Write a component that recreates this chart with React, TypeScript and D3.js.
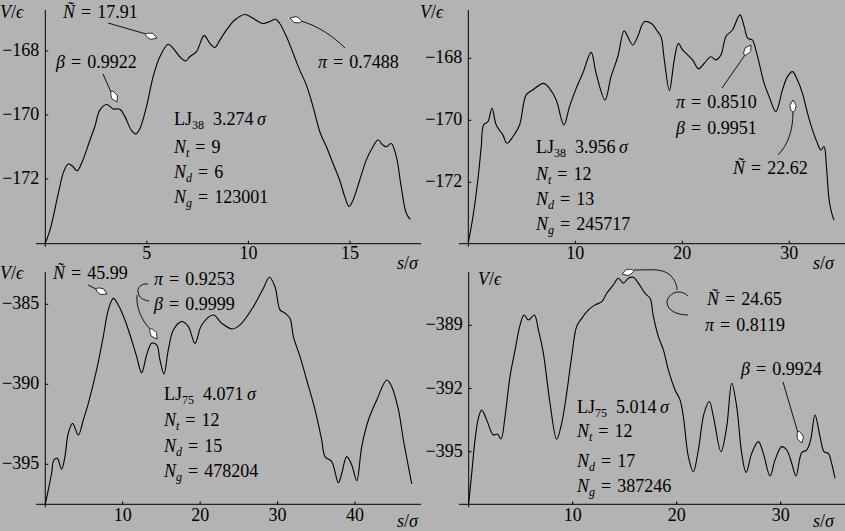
import React from "react";
import * as d3 from "d3";

// ---------- data (s/σ, V/ε) ----------
const lj38a: [number, number][] = [
  [0, -174], [0.23, -173.6], [0.64, -172.45], [0.89, -171.8], [1.13, -171.53], [1.34, -171.6],
  [1.57, -171.74], [1.79, -171.5], [2.2, -170.78], [2.44, -170.36], [2.69, -169.84], [3.02, -169.67],
  [3.34, -169.81], [3.67, -169.82], [3.92, -170.05], [4.25, -170.49], [4.46, -170.59], [4.66, -170.42],
  [4.98, -169.74], [5.31, -168.8], [5.64, -168.18], [6.05, -167.79], [6.3, -167.92], [6.62, -168.18],
  [6.9, -168.31], [7.11, -168.18], [7.44, -168.02], [7.82, -167.52], [8.1, -167.76], [8.34, -167.89],
  [8.59, -167.66], [8.92, -167.34], [9.33, -167.03], [9.82, -166.86], [10.23, -166.98], [10.72, -167.14],
  [11.05, -167.08], [11.34, -167.01], [11.54, -167.14], [11.87, -167.55], [12.2, -168.07], [12.52, -168.59],
  [12.85, -169.06], [13.18, -169.74], [13.54, -170.57], [13.84, -170.99], [14.16, -171.51], [14.49, -172.03],
  [14.74, -172.55], [14.95, -172.86], [15.15, -172.66], [15.48, -172.03], [15.8, -171.41], [16.13, -170.99],
  [16.38, -170.78], [16.62, -170.94], [16.79, -170.99], [17.03, -170.89], [17.28, -171.3], [17.52, -172.24],
  [17.77, -173.07], [17.97, -173.26],
];

const lj38b: [number, number][] = [
  [0, -173.95], [0.44, -173.1], [0.9, -171.9], [1.21, -170.85], [1.43, -170.15], [1.84, -170.04],
  [2.21, -169.61], [2.61, -170.15], [3.23, -170.47], [3.61, -170.74], [4.17, -170.53], [4.79, -170.15],
  [5.41, -169.18], [6.03, -169.02], [7.03, -168.81], [7.59, -168.97], [8.21, -169.34], [8.93, -170.15],
  [9.46, -169.56], [10.08, -168.97], [10.7, -168.48], [11.48, -167.81], [11.94, -168.48], [12.78, -169.34],
  [13.34, -168.59], [13.97, -167.95], [14.56, -167.11], [14.9, -167.3], [15.37, -167.57], [15.83, -167.3],
  [16.45, -166.82], [17.08, -166.87], [17.7, -167.14], [18.01, -167.3], [18.32, -168.05], [18.79, -169.04],
  [19.25, -168.05], [19.63, -167.52], [20.03, -167.73], [20.5, -167.89], [20.96, -168.05], [21.52, -168.34],
  [22.05, -168.16], [22.67, -167.95], [23.14, -168.05], [23.61, -167.89], [24.08, -167.3], [24.7, -167.08],
  [25.38, -166.6], [25.79, -166.98], [26.1, -167.35], [26.56, -167.41], [26.87, -167.73], [27.19, -168.16],
  [27.65, -168.81], [28.12, -169.24], [28.74, -169.72], [29.36, -169.02], [29.83, -168.59], [30.3, -168.43],
  [30.76, -168.7], [31.23, -169.13], [31.7, -169.77], [32.16, -170.31], [32.63, -170.74], [32.94, -170.96],
  [33.25, -170.85], [33.47, -171.49], [33.72, -172.57], [33.97, -173.0], [34.18, -173.22],
];

const lj75a: [number, number][] = [
  [0, -397.5], [0.39, -396.6], [0.82, -395.56], [1.12, -394.73], [1.55, -394.63], [2.11, -395.31],
  [2.54, -394.52], [2.97, -393.06], [3.53, -392.44], [4.26, -393.17], [4.91, -392.23], [5.56, -391.19],
  [6.63, -389.1], [7.49, -387.02], [8.14, -385.35], [8.79, -384.63], [9.43, -385.04], [10.29, -385.98],
  [11.15, -387.23], [11.8, -388.27], [12.45, -389.27], [13.09, -388.17], [13.74, -387.44], [14.39, -387.54],
  [14.81, -388.48], [15.33, -389.35], [15.89, -387.85], [16.54, -386.6], [17.61, -386.08], [18.48, -386.4],
  [19.34, -387.44], [20.2, -386.29], [21.71, -385.67], [22.79, -386.19], [24.16, -386.54], [25.15, -386.29],
  [26.87, -385.15], [28.17, -384.0], [28.94, -383.31], [29.67, -383.9], [30.32, -385.35], [30.97, -385.56],
  [31.61, -385.88], [32.04, -387.02], [32.9, -388.27], [33.76, -389.73], [34.84, -391.6], [35.7, -393.48],
  [36.13, -394.52], [36.99, -394.83], [37.85, -396.15], [38.29, -395.56], [38.93, -394.52], [39.58, -395.04],
  [40.22, -396.02], [40.87, -393.9], [41.73, -392.23], [42.81, -390.98], [44.1, -389.73], [44.75, -390.15],
  [45.61, -391.6], [46.25, -393.48], [46.9, -395.15], [47.33, -396.23],
];

const lj75b: [number, number][] = [
  [0, -397.45], [0.29, -396.03], [0.61, -394.44], [0.93, -393.41], [1.25, -393.02], [1.73, -393.49],
  [2.37, -394.21], [2.76, -394.16], [3.11, -394.4], [3.49, -393.34], [3.97, -391.44], [4.46, -390.17],
  [4.94, -388.98], [5.32, -388.51], [5.74, -388.75], [6.31, -388.51], [6.7, -389.22], [7.18, -390.33],
  [7.82, -392.7], [8.46, -394.41], [8.94, -393.65], [9.42, -392.23], [9.9, -390.49], [10.38, -389.06],
  [10.87, -388.67], [11.51, -388.27], [12.15, -388.03], [12.79, -387.88], [13.27, -387.48], [13.91, -387.08],
  [14.39, -386.77], [14.87, -387.0], [15.35, -386.77], [15.83, -386.72], [16.31, -387.0], [16.96, -387.48],
  [17.44, -387.72], [17.76, -388.59], [18.24, -389.54], [18.72, -390.17], [19.2, -391.12], [19.84, -392.07],
  [20.32, -392.54], [20.64, -393.34], [21.12, -395.23], [21.6, -395.95], [22.08, -394.92], [22.63, -393.18],
  [23.14, -392.62], [23.53, -393.34], [24.26, -395.0], [24.81, -393.81], [25.29, -391.75], [25.77, -392.86],
  [26.25, -395.08], [26.67, -395.99], [27.21, -395.08], [27.85, -394.52], [28.33, -395.08], [28.97, -396.15],
  [29.46, -395.39], [30.1, -394.76], [30.58, -394.92], [31.06, -395.55], [31.47, -396.15], [32.02, -395.04],
  [32.5, -394.92], [32.88, -394.44], [33.3, -393.26], [33.78, -394.28], [34.17, -395.0], [34.58, -395.08],
  [34.9, -395.55], [35.22, -396.26],
];

const xTicks1 = [5, 10, 15];
const xTicks2 = [10, 20, 30];
const xTicks3 = [10, 20, 30, 40];
const xTicks4 = [10, 20, 30];
const yTicks1 = [-168, -170, -172];
const yTicks2 = [-168, -170, -172];
const yTicks3 = [-385, -390, -395];
const yTicks4 = [-389, -392, -395];

// ---------- layout ----------
const W = 845;
const H = 531;
const BG = "#b3b3b3";
const FONT = "Liberation Serif";
const FS = 18;
const SUB = 12;
const EQ = "\u2004=\u2004";

type Panel = {
  data: [number, number][];
  xd: [number, number]; xr: [number, number];
  yd: [number, number]; yr: [number, number];
  axisY: number; axisTop: number; xStart: number; xEnd: number;
  xTicks: number[]; yTicks: number[]; xLabelY: number;
};

const panels: Panel[] = [
  { data: lj38a, xd: [0, 15], xr: [45.3, 350], yd: [-172, -168], yr: [179, 51],
    axisY: 243.7, axisTop: 10, xStart: 36, xEnd: 421, xTicks: xTicks1, yTicks: yTicks1, xLabelY: 259 },
  { data: lj38b, xd: [10, 30], xr: [575.3, 789.3], yd: [-172, -168], yr: [182.3, 58.3],
    axisY: 243.7, axisTop: 10, xStart: 459, xEnd: 845, xTicks: xTicks2, yTicks: yTicks2, xLabelY: 259 },
  { data: lj75a, xd: [10, 40], xr: [122.7, 355], yd: [-395, -385], yr: [464.3, 304.3],
    axisY: 504.3, axisTop: 272, xStart: 36, xEnd: 421, xTicks: xTicks3, yTicks: yTicks3, xLabelY: 521 },
  { data: lj75b, xd: [10, 30], xr: [572.7, 780.7], yd: [-395, -389], yr: [451.7, 325.3],
    axisY: 504.3, axisTop: 272, xStart: 459, xEnd: 845, xTicks: xTicks4, yTicks: yTicks4, xLabelY: 521 },
];

const fmt = (v: number) => (v < 0 ? "\u2212" + Math.abs(v) : String(v));

function PanelView({ p }: { p: Panel }) {
  const x = d3.scaleLinear().domain(p.xd).range(p.xr);
  const y = d3.scaleLinear().domain(p.yd).range(p.yr);
  const x0 = x(0);
  const line = d3.line<[number, number]>()
    .x((d) => x(d[0]))
    .y((d) => y(d[1]))
    .curve(d3.curveCatmullRom.alpha(0.5));
  return (
    <g>
      <line x1={p.xStart} x2={p.xEnd} y1={p.axisY} y2={p.axisY} stroke="#000" strokeWidth={1} />
      <line x1={x0} x2={x0} y1={p.axisTop} y2={p.axisY + 3} stroke="#000" strokeWidth={1} />
      {p.xTicks.map((t) => (
        <g key={"x" + t}>
          <line x1={x(t)} x2={x(t)} y1={p.axisY} y2={p.axisY - 3} stroke="#000" />
          <text x={x(t)} y={p.xLabelY} textAnchor="middle" fontFamily={FONT} fontSize={FS}>{fmt(t)}</text>
        </g>
      ))}
      {p.yTicks.map((t) => (
        <g key={"y" + t}>
          <line x1={x0} x2={x0 + 3} y1={y(t)} y2={y(t)} stroke="#000" />
          <text x={x0 - 6} y={y(t) + 5} textAnchor="end" fontFamily={FONT} fontSize={FS}>{fmt(t)}</text>
        </g>
      ))}
      <path d={line(p.data) || ""} fill="none" stroke="#000" strokeWidth={1.1} />
    </g>
  );
}

// arrow head (white kite with black outline), tip at (tx,ty), coming from (fx,fy)
function Head({ tx, ty, fx, fy }: { tx: number; ty: number; fx: number; fy: number }) {
  const dx = tx - fx, dy = ty - fy;
  const L = Math.hypot(dx, dy) || 1;
  const ux = dx / L, uy = dy / L;
  const px = -uy, py = ux;
  const len = 12, wid = 3.2;
  const b = [tx - ux * len, ty - uy * len];
  const m = [tx - ux * len * 0.45, ty - uy * len * 0.45];
  const d = `M${tx},${ty} L${m[0] + px * wid},${m[1] + py * wid} Q${b[0] + px * wid * 0.6},${b[1] + py * wid * 0.6} ${b[0]},${b[1]} Q${b[0] - px * wid * 0.6},${b[1] - py * wid * 0.6} ${m[0] - px * wid},${m[1] - py * wid} Z`;
  return <path d={d} fill="#fff" stroke="#000" strokeWidth={0.8} />;
}

const It = ({ children }: { children: React.ReactNode }) => <tspan fontStyle="italic">{children}</tspan>;

function T({ x, y, children }: { x: number; y: number; children: React.ReactNode }) {
  return <text x={x} y={y} fontFamily={FONT} fontSize={FS} fill="#000">{children}</text>;
}

function NSub({ x, y, sub, val }: { x: number; y: number; sub: string; val: string }) {
  return (
    <T x={x} y={y}>
      <It>N</It><tspan fontSize={SUB} dy={4} fontStyle="italic">{sub}</tspan><tspan dy={-4}>{EQ + val}</tspan>
    </T>
  );
}

function LJ({ x, y, n, r }: { x: number; y: number; n: string; r: string }) {
  return (
    <T x={x} y={y}>
      LJ<tspan fontSize={SUB} dy={4}>{n}</tspan><tspan dy={-4}>{"\u2002" + r + "\u2009"}</tspan><It>σ</It>
    </T>
  );
}

const stroke = { fill: "none", stroke: "#000", strokeWidth: 0.9 };

export default function App() {
  return (
    <svg width={W} height={H} style={{ position: "absolute", left: 0, top: 0 }} xmlns="http://www.w3.org/2000/svg">
      <rect x={0} y={0} width={W} height={H} fill={BG} />
      {panels.map((p, i) => <PanelView key={i} p={p} />)}

      {/* axis titles */}
      <T x={0} y={18}><It>V</It>/<It>ϵ</It></T>
      <T x={420} y={18}><It>V</It>/<It>ϵ</It></T>
      <T x={0} y={279}><It>V</It>/<It>ϵ</It></T>
      <T x={478} y={285}><It>V</It>/<It>ϵ</It></T>
      <T x={397} y={269}><It>s</It>/<It>σ</It></T>
      <T x={813} y={269}><It>s</It>/<It>σ</It></T>
      <T x={397} y={527}><It>s</It>/<It>σ</It></T>
      <T x={813} y={527}><It>s</It>/<It>σ</It></T>

      {/* panel 1 annotations */}
      <T x={63} y={18}><It>Ñ</It>{EQ}17.91</T>
      <T x={56} y={68}><It>β</It>{EQ}0.9922</T>
      <T x={318} y={68}><It>π</It>{EQ}0.7488</T>
      <path d="M108,23 L146,34" {...stroke} />
      <Head tx={157} ty={38} fx={108} fy={23} />
      <path d="M103,74 L111,92" {...stroke} />
      <Head tx={117} ty={102} fx={103} fy={74} />
      <path d="M345,48 C333,36 318,26 301,21" {...stroke} />
      <Head tx={290} ty={18} fx={303} fy={22} />
      <LJ x={174} y={125} n="38" r="3.274" />
      <NSub x={174} y={153} sub="t" val="9" />
      <NSub x={174} y={178} sub="d" val="6" />
      <NSub x={174} y={203} sub="g" val="123001" />

      {/* panel 2 annotations */}
      <T x={676} y={108}><It>π</It>{EQ}0.8510</T>
      <T x={676} y={134}><It>β</It>{EQ}0.9951</T>
      <T x={733} y={174}><It>Ñ</It>{EQ}22.62</T>
      <path d="M722,88 L745,55" {...stroke} />
      <Head tx={751} ty={45} fx={722} fy={88} />
      <path d="M778,155 C788,145 793,130 793,112" {...stroke} />
      <Head tx={793} ty={100} fx={793} fy={113} />
      <LJ x={536} y={153} n="38" r="3.956" />
      <NSub x={536} y={180} sub="t" val="12" />
      <NSub x={536} y={205} sub="d" val="13" />
      <NSub x={536} y={230} sub="g" val="245717" />

      {/* panel 3 annotations */}
      <T x={53} y={279}><It>Ñ</It>{EQ}45.99</T>
      <T x={154} y={285}><It>π</It>{EQ}0.9253</T>
      <T x={154} y={310}><It>β</It>{EQ}0.9999</T>
      <path d="M88,285 L98,290" {...stroke} />
      <Head tx={107} ty={294} fx={88} fy={285} />
      <path d="M148,284 C141,283 137,288 138,292 C139,298 143,300 149,301" {...stroke} />
      <path d="M137,295 C136,307 141,320 151,330" {...stroke} />
      <Head tx={157} ty={339} fx={151} fy={330} />
      <LJ x={164} y={400} n="75" r="4.071" />
      <NSub x={164} y={426} sub="t" val="12" />
      <NSub x={164} y={452} sub="d" val="15" />
      <NSub x={164} y={477} sub="g" val="478204" />

      {/* panel 4 annotations */}
      <T x={707} y={305}><It>Ñ</It>{EQ}24.65</T>
      <T x={705} y={331}><It>π</It>{EQ}0.8119</T>
      <T x={741} y={375}><It>β</It>{EQ}0.9924</T>
      <path d="M634,270 C650,270 662,268 670,275 C675,280 677,285 677,290" {...stroke} />
      <Head tx={622} ty={274} fx={636} fy={270} />
      <path d="M688,296 C680,288 668,293 667,302 C667,311 678,315 688,315" {...stroke} />
      <path d="M783,382 L798,433" {...stroke} />
      <Head tx={802} ty={443} fx={783} fy={382} />
      <LJ x={577} y={413} n="75" r="5.014" />
      <NSub x={577} y={437} sub="t" val="12" />
      <NSub x={577} y={467} sub="d" val="17" />
      <NSub x={577} y={492} sub="g" val="387246" />
    </svg>
  );
}
